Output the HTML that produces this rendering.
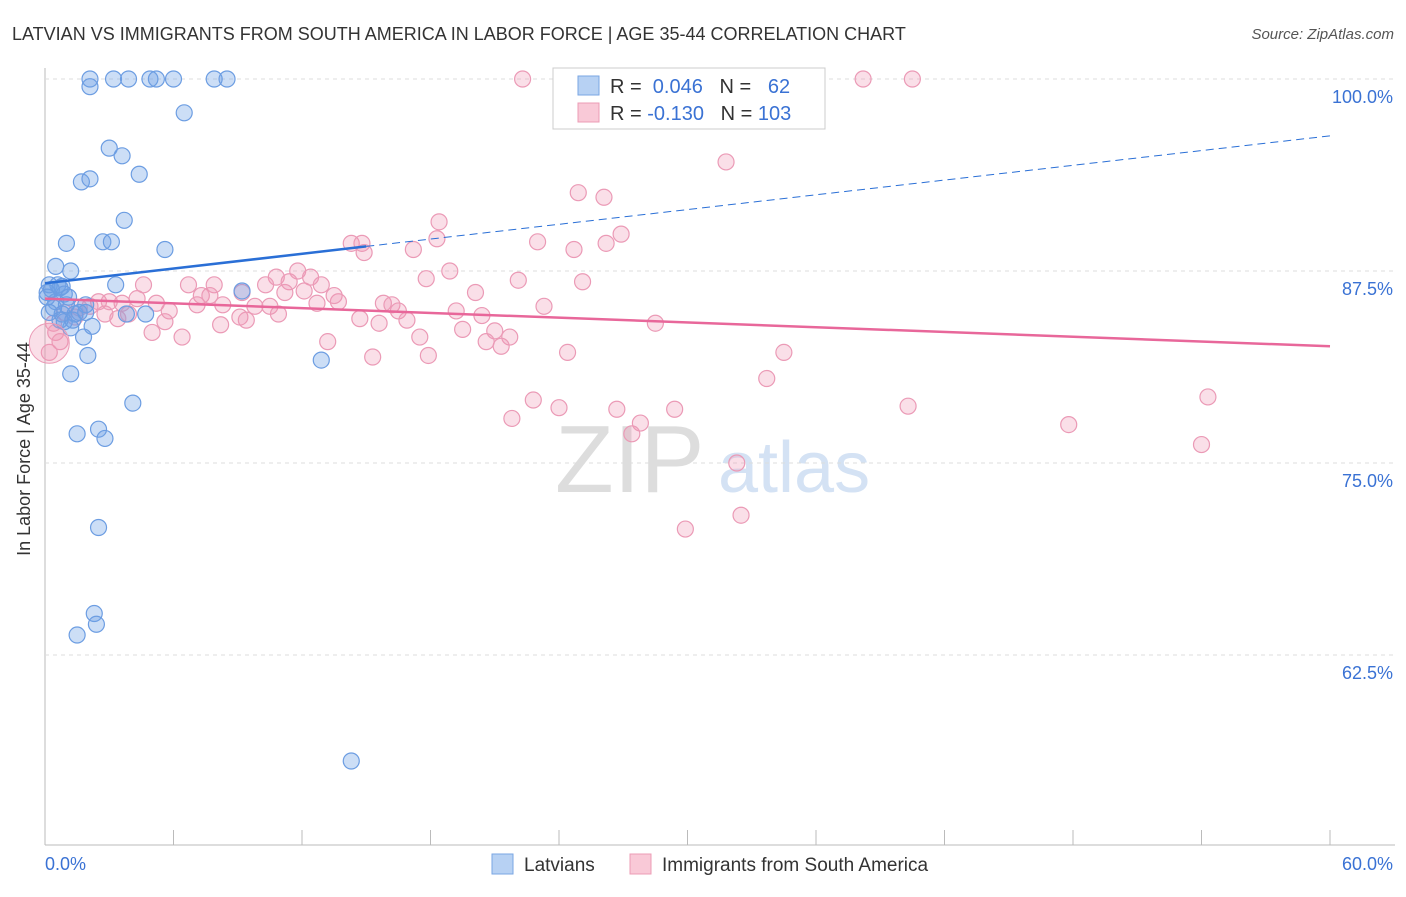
<!DOCTYPE html>
<html><head><meta charset="utf-8"><style>
body{margin:0;background:#fff;font-family:"Liberation Sans",sans-serif}
svg text{font-family:"Liberation Sans",sans-serif}
</style></head><body>
<svg id="chart" width="1406" height="892">
<text x="12" y="40" font-size="18" fill="#333">LATVIAN VS IMMIGRANTS FROM SOUTH AMERICA IN LABOR FORCE | AGE 35-44 CORRELATION CHART</text>
<text x="1394" y="39" font-size="15" fill="#555" font-style="italic" text-anchor="end">Source: ZipAtlas.com</text>
<text x="38" y="457" font-size="18" fill="#333" transform="rotate(-90 30 457)" text-anchor="middle">In Labor Force | Age 35-44</text>
<text x="555" y="492" font-size="96" fill="#ddd" font-family="Liberation Serif">ZIP</text>
<text x="718" y="492" font-size="72" fill="#d4e2f4">atlas</text>
<g id="grid"></g><g id="pts"></g><g id="lines"></g>
<g>
<rect x="553" y="68" width="272" height="61" fill="#fff" stroke="#ccc"/>
<rect x="578" y="76" width="21" height="19" fill="#b7d1f3" stroke="#7aa6e3"/>
<rect x="578" y="103" width="21" height="19" fill="#f9c9d7" stroke="#ec9cb6"/>
<text x="610" y="93" font-size="20" fill="#333">R = <tspan fill="#3a72d4">&#160;0.046</tspan>&#160;&#160;&#160;N = <tspan fill="#3a72d4">&#160;&#160;62</tspan></text>
<text x="610" y="120" font-size="20" fill="#333">R = <tspan fill="#3a72d4">-0.130</tspan>&#160;&#160;&#160;N = <tspan fill="#3a72d4">103</tspan></text>
</g>
<g>
<rect x="492" y="854" width="21" height="20" fill="#b7d1f3" stroke="#7aa6e3"/>
<text x="524" y="871" font-size="19" fill="#333">Latvians</text>
<rect x="630" y="854" width="21" height="20" fill="#f9c9d7" stroke="#ec9cb6"/>
<text x="662" y="871" font-size="19" fill="#333">Immigrants from South America</text>
</g>
</svg>
<script>
const xTicks=[0,60];
const yTicks=[100,87.5,75,62.5];
const bluePts=[[2.1,100],[3.2,100],[3.9,100],[4.9,100],[5.2,100],[6.0,100],[7.9,100],[8.5,100],[2.1,99.5],[6.5,97.8],[3.0,95.5],[3.6,95.0],[4.4,93.8],[1.7,93.3],[2.1,93.5],[3.7,90.8],[1.0,89.3],[2.7,89.4],[3.1,89.4],[5.6,88.9],[0.5,87.8],[1.2,87.5],[0.2,86.6],[0.6,86.6],[0.8,86.5],[0.1,86.1],[3.3,86.6],[9.2,86.2],[0.4,85.1],[1.9,85.3],[0.8,84.7],[1.4,84.7],[0.9,84.2],[1.2,83.8],[2.2,83.9],[3.8,84.7],[4.7,84.7],[1.8,83.2],[2.0,82.0],[12.9,81.7],[1.2,80.8],[4.1,78.9],[1.5,76.9],[2.5,77.2],[2.8,76.6],[2.5,70.8],[2.3,65.2],[2.4,64.5],[1.5,63.8],[14.3,55.6],[0.5,85.5],[0.7,84.3],[1.3,84.3],[0.1,85.8],[0.3,86.3],[1.0,85.3],[1.6,84.8],[1.9,84.8],[0.7,86.4],[0.2,84.8],[0.9,86.0],[1.1,85.8]];
const pinkPts=[[22.3,100],[27.2,100],[38.2,100],[40.5,100],[31.8,94.6],[24.9,92.6],[26.1,92.3],[26.9,89.9],[18.4,90.7],[18.3,89.6],[23.0,89.4],[26.2,89.3],[24.7,88.9],[14.3,89.3],[14.8,89.3],[14.9,88.7],[17.2,88.9],[11.8,87.5],[10.8,87.1],[12.4,87.1],[11.4,86.8],[7.9,86.6],[6.7,86.6],[4.6,86.6],[10.3,86.6],[12.9,86.6],[17.8,87.0],[18.9,87.5],[22.1,86.9],[25.1,86.8],[20.1,86.1],[7.3,85.9],[7.7,85.9],[9.2,86.1],[11.2,86.1],[12.1,86.2],[13.7,85.5],[12.7,85.4],[2.5,85.5],[3.6,85.4],[4.3,85.7],[5.2,85.4],[5.8,84.9],[7.1,85.3],[8.3,85.3],[9.8,85.2],[10.5,85.2],[15.8,85.4],[16.2,85.3],[16.5,84.9],[14.7,84.4],[13.5,85.9],[19.2,84.9],[20.4,84.6],[23.3,85.2],[3.9,84.7],[3.4,84.4],[5.6,84.2],[9.1,84.5],[9.4,84.3],[10.9,84.7],[8.2,84.0],[15.6,84.1],[16.9,84.3],[19.5,83.7],[21.0,83.6],[21.7,83.2],[17.5,83.2],[5.0,83.5],[6.4,83.2],[13.2,82.9],[20.6,82.9],[21.3,82.6],[28.5,84.1],[24.4,82.2],[34.5,82.2],[15.3,81.9],[17.9,82.0],[33.7,80.5],[22.8,79.1],[24.0,78.6],[21.8,77.9],[26.7,78.5],[29.4,78.5],[27.8,77.6],[27.4,76.9],[40.3,78.7],[54.3,79.3],[47.8,77.5],[54.0,76.2],[32.3,75.0],[29.9,70.7],[32.5,71.6],[0.4,84.1],[0.2,82.2],[0.5,83.5],[0.9,84.8],[2.1,85.2],[2.8,84.7],[1.4,84.5],[3.0,85.5],[0.7,82.9],[1.6,85.1]];
const X=v=>45+v/60*1285, Y=v=>79+(100-v)*15.36;
const NS='http://www.w3.org/2000/svg';
function mk(t,a,p){const e=document.createElementNS(NS,t);for(const k in a)e.setAttribute(k,a[k]);p.appendChild(e);return e;}
const svg=document.getElementById('chart'),grid=document.getElementById('grid'),pts=document.getElementById('pts'),lines=document.getElementById('lines');
const ax=mk('line',{x1:45,y1:68,x2:45,y2:845,stroke:'#bbb'},grid);


const bx=mk('line',{x1:45,y1:845,x2:1395,y2:845,stroke:'#bbb'},grid);


for(let i=0;i<=10;i++){const t=mk('line',{x1:X(i*6),y1:845,x2:X(i*6),y2:830,stroke:'#bbb'},grid);

}
yTicks.forEach(v=>{const g=mk('line',{x1:45,y1:Y(v),x2:1395,y2:Y(v),stroke:'#ddd','stroke-dasharray':'4,4'},grid);


const t=mk('text',{x:1393,y:Y(v)+24,'font-size':18,fill:'#3a72d4','text-anchor':'end'},grid);t.textContent=v.toFixed(1)+'%';

});
xTicks.forEach((v,i)=>{const t=mk('text',{x:i?1393:45,y:870,'font-size':18,fill:'#3a72d4','text-anchor':i?'end':'start'},grid);t.textContent=v.toFixed(1)+'%';

});
pinkPts.forEach(p=>{const c=mk('circle',{cx:X(p[0]),cy:Y(p[1]),r:8,fill:'rgba(240,150,180,0.3)',stroke:'#eb9ab6','stroke-width':1.2},pts);

});
bluePts.forEach(p=>{const c=mk('circle',{cx:X(p[0]),cy:Y(p[1]),r:8,fill:'rgba(110,160,230,0.35)',stroke:'#6c9de2','stroke-width':1.2},pts);

});
const big=mk('circle',{cx:X(0.2),cy:Y(82.8),r:20,fill:'rgba(240,150,180,0.3)',stroke:'#eb9ab6'},pts);


const l1=mk('line',{x1:X(0),y1:Y(86.7),x2:X(15),y2:Y(89.1),stroke:'#2a6fd6','stroke-width':2.5},lines);


const l2=mk('line',{x1:X(15),y1:Y(89.1),x2:X(60),y2:Y(96.3),stroke:'#2a6fd6','stroke-width':1,'stroke-dasharray':'8,5'},lines);


const l3=mk('line',{x1:X(0),y1:Y(85.7),x2:X(60),y2:Y(82.6),stroke:'#e8679a','stroke-width':2.5},lines);


</script>
</body></html>
